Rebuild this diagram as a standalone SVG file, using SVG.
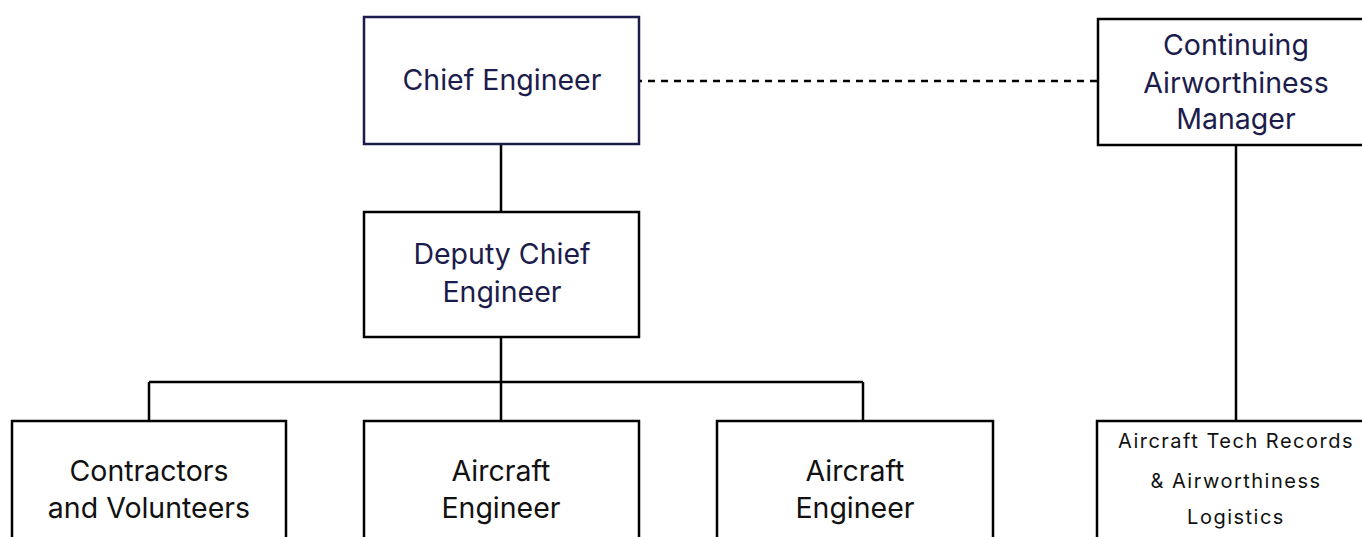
<svg xmlns="http://www.w3.org/2000/svg" width="1362" height="537" viewBox="0 0 1362 537">
<style>
.box{fill:#ffffff;stroke:#000000;stroke-width:2.5}
.navy{stroke:#1c1c4c}
.t{font-family:Inter,"Liberation Sans",sans-serif;text-anchor:middle}
.tn{fill:#1c1c4c;font-size:28.5px}
.tb{fill:#111111;font-size:28.5px}
.ts{fill:#111111;font-size:20px;letter-spacing:1.5px}
.c{fill:none;stroke:#000000;stroke-width:2.5}
.d{fill:none;stroke:#000000;stroke-width:2.5;stroke-dasharray:7 6}
</style>
<rect width="1362" height="537" fill="#ffffff"/>
<g id="connectors">
<line class="c" x1="501" y1="144" x2="501" y2="212"/>
<path class="c" d="M501 337 V382 M149 382 H863 M149 382 V421 M501 382 V421 M863 382 V421"/>
<line class="c" x1="1236" y1="145" x2="1236" y2="421"/>
<line class="d" x1="635" y1="81" x2="1098" y2="81"/>
</g>
<g id="chief-engineer">
<rect class="box navy" x="364" y="17" width="275" height="127"/>
<text class="t tn" x="502" y="90">Chief Engineer</text>
</g>
<g id="cam">
<rect class="box" x="1098" y="19" width="275" height="126"/>
<text class="t tn" x="1236" y="55">Continuing</text>
<text class="t tn" x="1236" y="93">Airworthiness</text>
<text class="t tn" x="1236" y="129">Manager</text>
</g>
<g id="deputy">
<rect class="box" x="364" y="212" width="275" height="125"/>
<text class="t tn" x="502" y="264">Deputy Chief</text>
<text class="t tn" x="502" y="302">Engineer</text>
</g>
<g id="contractors">
<rect class="box" x="12" y="421" width="274" height="130"/>
<text class="t tb" x="149" y="481">Contractors</text>
<text class="t tb" x="149" y="518">and Volunteers</text>
</g>
<g id="aircraft-engineer-1">
<rect class="box" x="364" y="421" width="275" height="130"/>
<text class="t tb" x="501" y="481">Aircraft</text>
<text class="t tb" x="501" y="518">Engineer</text>
</g>
<g id="aircraft-engineer-2">
<rect class="box" x="717" y="421" width="276" height="130"/>
<text class="t tb" x="855" y="481">Aircraft</text>
<text class="t tb" x="855" y="518">Engineer</text>
</g>
<g id="tech-records">
<rect class="box" x="1097" y="421" width="276" height="130"/>
<text class="t ts" x="1236" y="448">Aircraft Tech Records</text>
<text class="t ts" x="1236" y="488">&amp; Airworthiness</text>
<text class="t ts" x="1236" y="524">Logistics</text>
</g>
</svg>
